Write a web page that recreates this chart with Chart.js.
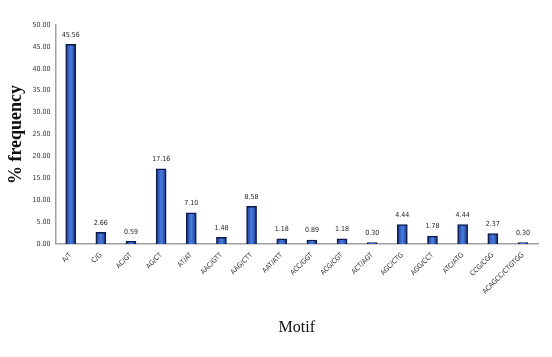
<!DOCTYPE html>
<html>
<head>
<meta charset="utf-8">
<script src="https://cdn.jsdelivr.net/npm/chart.js@4/dist/chart.umd.min.js"></script>
<style>
html,body{margin:0;padding:0;background:#fff;}
canvas{display:block;}
</style>
</head>
<body>
<canvas id="c" width="552" height="357"></canvas>
<script>
const categories = ["A/T","C/G","AC/GT","AG/CT","AT/AT","AAC/GTT","AAG/CTT","AAT/ATT","ACC/GGT","ACG/CGT","ACT/AGT","AGC/CTG","AGG/CCT","ATC/ATG","CCG/CGG","ACAGCC/CTGTGG"];
const frequency = [45.56,2.66,0.59,17.16,7.10,1.48,8.58,1.18,0.89,1.18,0.30,4.44,1.78,4.44,2.37,0.30];
const yTicks = [0,5,10,15,20,25,30,35,40,45,50];

const smallFont = '"Liberation Sans Narrow", "DejaVu Sans Condensed", "Liberation Sans", Arial, sans-serif';

const labelPlugin = {
  id: 'valueLabels',
  afterDatasetsDraw(chart) {
    const ctx = chart.ctx;
    const meta = chart.getDatasetMeta(0);
    ctx.save();
    ctx.font = '7px ' + smallFont;
    ctx.fillStyle = '#222';
    ctx.textAlign = 'center';
    ctx.textBaseline = 'bottom';
    meta.data.forEach((bar, i) => {
      ctx.fillText(frequency[i].toFixed(2), bar.x, bar.y - 6);
    });
    ctx.restore();
  }
};

function barFill(context) {
  const chart = context.chart;
  const xs = chart.scales && chart.scales.x;
  if (!xs || context.dataIndex === undefined || !isFinite(xs.getPixelForValue(context.dataIndex))) return '#2f5dbf';
  const cx = xs.getPixelForValue(context.dataIndex);
  const w = 5;
  const g = chart.ctx.createLinearGradient(cx - w, 0, cx + w, 0);
  g.addColorStop(0, '#1a3a8a');
  g.addColorStop(0.5, '#4a7de0');
  g.addColorStop(1, '#1a3a8a');
  return g;
}

new Chart(document.getElementById('c'), {
  type: 'bar',
  data: {
    labels: categories,
    datasets: [{
      data: frequency,
      backgroundColor: barFill,
      borderColor: '#0b1a4a',
      borderWidth: 1.5,
      barThickness: 10
    }]
  },
  options: {
    responsive: false,
    animation: false,
    layout: { padding: { top: 25, right: 14, left: 6, bottom: 20 } },
    plugins: { legend: { display: false }, tooltip: { enabled: false } },
    scales: {
      x: {
        grid: { display: false, drawTicks: false },
        border: { display: true, color: '#a0a0a0', width: 1.5 },
        ticks: {
          minRotation: 45, maxRotation: 45,
          color: '#333',
          font: { size: 7, family: smallFont },
          padding: 7
        },
        title: {
          display: true, text: 'Motif', color: '#111',
          font: { size: 16, family: '"Liberation Serif", "Times New Roman", serif' },
          padding: { top: 15, bottom: 0 }
        }
      },
      y: {
        min: 0, max: 50,
        afterBuildTicks(scale) { scale.ticks = yTicks.map(v => ({ value: v })); },
        grid: { display: false, drawTicks: false },
        border: { display: true, color: '#a0a0a0', width: 1.5 },
        ticks: {
          color: '#333',
          font: { size: 7, family: smallFont },
          callback: v => Number(v).toFixed(2),
          padding: 5
        },
        title: {
          display: true, text: '% frequency', color: '#111',
          font: { size: 18, weight: 'bold', family: '"Liberation Serif", "Times New Roman", serif' },
          padding: { top: 0, bottom: 0 }
        }
      }
    }
  },
  plugins: [labelPlugin]
});
</script>
</body>
</html>
